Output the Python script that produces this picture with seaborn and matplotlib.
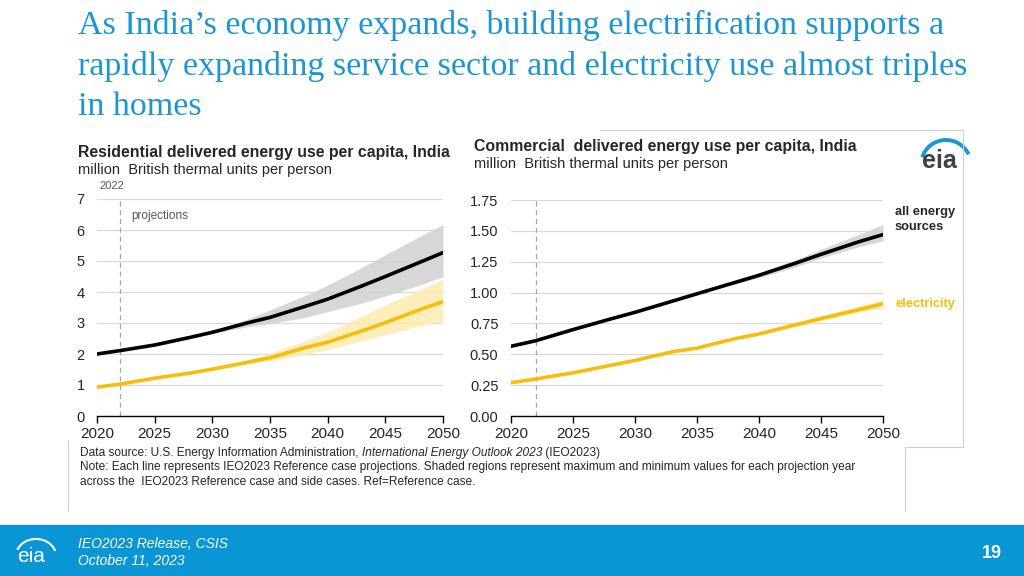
import numpy as np
import pandas as pd
import seaborn as sns
import matplotlib.pyplot as plt
from matplotlib.patches import Rectangle, Arc

# Years
years = [2020, 2022, 2025, 2028, 2030, 2033, 2035, 2038, 2040, 2043, 2045, 2048, 2050]

# Residential (left panel), million Btu per person
res_all = [2.00, 2.11, 2.29, 2.53, 2.70, 3.00, 3.18, 3.53, 3.77, 4.20, 4.50, 4.96, 5.27]
res_all_hi = [2.00, 2.11, 2.30, 2.55, 2.74, 3.12, 3.42, 3.88, 4.22, 4.80, 5.20, 5.80, 6.17]
res_all_lo = [2.00, 2.11, 2.28, 2.50, 2.66, 2.88, 2.98, 3.18, 3.37, 3.65, 3.87, 4.23, 4.50]
res_elec = [0.93, 1.03, 1.22, 1.38, 1.51, 1.73, 1.88, 2.20, 2.38, 2.75, 3.01, 3.43, 3.69]
res_elec_hi = [0.93, 1.03, 1.22, 1.39, 1.53, 1.80, 2.02, 2.42, 2.72, 3.22, 3.58, 4.08, 4.42]
res_elec_lo = [0.93, 1.03, 1.21, 1.36, 1.49, 1.67, 1.78, 1.98, 2.15, 2.42, 2.63, 2.90, 3.07]

# Commercial (right panel)
com_all = [0.565, 0.61, 0.70, 0.785, 0.84, 0.93, 0.99, 1.08, 1.14, 1.24, 1.31, 1.41, 1.47]
com_all_hi = [0.565, 0.61, 0.70, 0.785, 0.84, 0.93, 0.995, 1.09, 1.16, 1.27, 1.35, 1.47, 1.55]
com_all_lo = [0.565, 0.61, 0.70, 0.785, 0.84, 0.93, 0.985, 1.07, 1.12, 1.21, 1.28, 1.37, 1.42]
com_elec = [0.27, 0.30, 0.35, 0.41, 0.45, 0.52, 0.55, 0.625, 0.665, 0.74, 0.79, 0.86, 0.91]
com_elec_hi = [0.27, 0.30, 0.35, 0.41, 0.45, 0.52, 0.555, 0.63, 0.675, 0.755, 0.81, 0.89, 0.945]
com_elec_lo = [0.27, 0.30, 0.35, 0.41, 0.45, 0.52, 0.545, 0.62, 0.655, 0.725, 0.77, 0.84, 0.875]

x_ticks = [2020, 2025, 2030, 2035, 2040, 2045, 2050]
res_yticks = [0, 1, 2, 3, 4, 5, 6, 7]
com_yticks = [0.0, 0.25, 0.5, 0.75, 1.0, 1.25, 1.5, 1.75]

BLUE = '#1B96D3'
YELLOW = '#F5BE0B'
YBAND = '#FDEBB0'
GBAND = '#D3D3D3'

sns.set_style('white')
plt.rcParams['font.family'] = ['Liberation Sans', 'DejaVu Sans']

W, H = 1024, 576
fig = plt.figure(figsize=(W / 100, H / 100), dpi=100)


def fx(px):
    return px / W


def fy(py):
    return 1 - py / H


def panel(rect, ylim, yticks, ylabels, all_, hi, lo, el, el_hi, el_lo):
    ax = fig.add_axes(rect)
    df = pd.DataFrame({'year': years, 'all': all_, 'elec': el})
    ax.fill_between(years, lo, hi, color=GBAND, lw=0, alpha=0.9)
    ax.fill_between(years, el_lo, el_hi, color=YBAND, lw=0, alpha=0.85)
    sns.lineplot(data=df, x='year', y='all', ax=ax, color='black', lw=2.6)
    sns.lineplot(data=df, x='year', y='elec', ax=ax, color=YELLOW, lw=2.6)
    ax.set_xlim(2020, 2050)
    ax.set_ylim(*ylim)
    ax.set_xticks(x_ticks)
    ax.set_yticks(yticks)
    ax.set_yticklabels(ylabels)
    ax.set_xlabel('')
    ax.set_ylabel('')
    for y in yticks[1:]:
        ax.axhline(y, color='#D9D9D9', lw=0.9, zorder=0)
    for s in ['top', 'right', 'left']:
        ax.spines[s].set_visible(False)
    ax.spines['bottom'].set_color('black')
    ax.spines['bottom'].set_linewidth(1.0)
    ax.tick_params(axis='x', length=5, width=1, color='black', labelsize=11, pad=3, bottom=True)
    ax.tick_params(axis='y', length=0, labelsize=10.5, pad=9)
    ax.axvline(2022, color='#A6A6A6', lw=0.9, ls=(0, (4, 3)), zorder=1)
    return ax


ax1 = panel([fx(97), fy(416), fx(443 - 97), (416 - 199) / H], (0, 7), res_yticks,
            [str(v) for v in res_yticks],
            res_all, res_all_hi, res_all_lo, res_elec, res_elec_hi, res_elec_lo)
ax2 = panel([fx(511), fy(416), fx(883 - 511), (416 - 200) / H], (0, 1.75), com_yticks,
            [f'{v:.2f}' for v in com_yticks],
            com_all, com_all_hi, com_all_lo, com_elec, com_elec_hi, com_elec_lo)

# slide title
title_lines = ['As India\u2019s economy expands, building electrification supports a',
               'rapidly expanding service sector and electricity use almost triples',
               'in homes']
for line, py in zip(title_lines, [25, 67, 107]):
    fig.text(fx(78), fy(py), line, color=BLUE, fontsize=24.5, family=['Liberation Serif', 'DejaVu Serif'],
             va='center', ha='left')

# chart titles
fig.text(fx(78), fy(152), 'Residential delivered energy use per capita, India', fontsize=11.4,
         weight='bold', va='center')
fig.text(fx(78), fy(170), 'million  British thermal units per person', fontsize=10.5, va='center')
fig.text(fx(474), fy(147), 'Commercial  delivered energy use per capita, India', fontsize=11.4,
         weight='bold', va='center')
fig.text(fx(474), fy(164), 'million  British thermal units per person', fontsize=10.5, va='center')

fig.text(fx(99), fy(186), '2022', fontsize=8, color='#595959', va='center')
fig.text(fx(131), fy(216), 'projections', fontsize=8.5, color='#595959', va='center')

fig.text(fx(895), fy(212), 'all energy', fontsize=9.3, weight='bold', va='center')
fig.text(fx(895), fy(227), 'sources', fontsize=9.3, weight='bold', va='center')
fig.text(fx(895), fy(304), 'electricity', fontsize=9.3, weight='bold', color=YELLOW, va='center')

# eia logo in the chart
fig.text(fx(939), fy(161), 'eia', fontsize=18, color='#404040', ha='center', va='center', weight='bold')
fig.patches.append(Arc((fx(946), fy(165)), fx(50), 50 / H, theta1=40, theta2=150, color=BLUE,
                       lw=2.8, transform=fig.transFigure))

# panel borders
fig.add_artist(plt.Line2D([fx(600), fx(963)], [fy(130), fy(130)], color='#D0D0D0', lw=0.8))
fig.add_artist(plt.Line2D([fx(963), fx(963)], [fy(130), fy(447)], color='#D0D0D0', lw=0.8))
fig.add_artist(plt.Line2D([fx(905), fx(963)], [fy(447), fy(447)], color='#D0D0D0', lw=0.8))
fig.add_artist(plt.Line2D([fx(905), fx(905)], [fy(447), fy(511)], color='#D0D0D0', lw=0.8))
fig.add_artist(plt.Line2D([fx(68), fx(68)], [fy(440), fy(511)], color='#D0D0D0', lw=0.8))

# source note: plain, italic and plain pieces laid end to end
note_fs = 8.6
parts = [('Data source: U.S. Energy Information Administration, ', 'normal'),
         ('International Energy Outlook 2023', 'italic'),
         (' (IEO2023)', 'normal')]
renderer = fig.canvas.get_renderer()
x0 = 80
for txt, st in parts:
    t = fig.text(fx(x0), fy(453), txt, fontsize=note_fs, style=st, va='center')
    x0 += t.get_window_extent(renderer).width
fig.text(fx(80), fy(467),
         'Note: Each line represents IEO2023 Reference case projections. Shaded regions represent maximum and '
         'minimum values for each projection year', fontsize=note_fs, va='center')
fig.text(fx(80), fy(482), 'across the  IEO2023 Reference case and side cases. Ref=Reference case.',
         fontsize=note_fs, va='center')

# footer band
fig.patches.append(Rectangle((0, 0), 1, (576 - 525) / H, transform=fig.transFigure,
                             color='#0A96D4', zorder=0))
fig.text(fx(78), fy(544), 'IEO2023 Release, CSIS', color='white', fontsize=10, style='italic', va='center')
fig.text(fx(78), fy(561), 'October 11, 2023', color='white', fontsize=10, style='italic', va='center')
fig.text(fx(992), fy(553), '19', color='white', fontsize=13, weight='bold', ha='center', va='center')
fig.text(fx(31), fy(557), 'eia', color='white', fontsize=15, ha='center', va='center')
fig.patches.append(Arc((fx(36), fy(556)), fx(40), 34 / H, theta1=25, theta2=150, color='white',
                       lw=1.5, transform=fig.transFigure))

fig.savefig('out.png', dpi=100)
